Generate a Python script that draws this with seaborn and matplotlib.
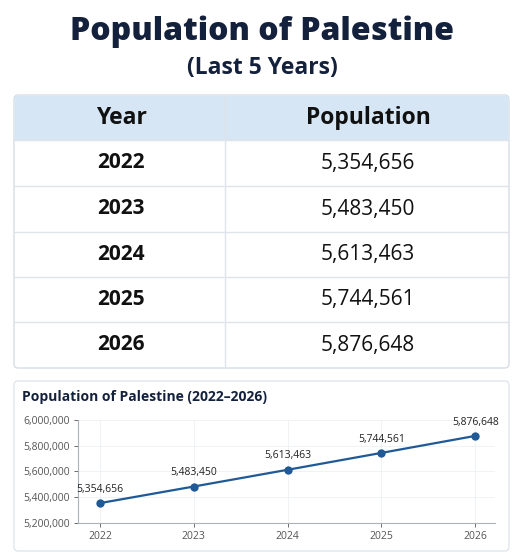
import matplotlib
matplotlib.use("Agg")
import matplotlib.pyplot as plt
import seaborn as sns
import pandas as pd
from matplotlib.patches import FancyBboxPatch, Rectangle
from matplotlib.lines import Line2D
from matplotlib.ticker import FuncFormatter

years = [2022, 2023, 2024, 2025, 2026]
population = [5354656, 5483450, 5613463, 5744561, 5876648]
y_ticks = [5200000, 5400000, 5600000, 5800000, 6000000]

sns.set_theme(style="white")
plt.rcParams['font.family'] = ['Open Sans', 'DejaVu Sans']

W, H = 524, 552
fig = plt.figure(figsize=(W/100, H/100), dpi=100)
fig.patch.set_facecolor("white")
NAVY = "#14213d"

def fx(x): return x / W
def fy(y): return 1 - y / H

fig.text(fx(262), fy(32), "Population of Palestine", ha="center", va="center",
         fontsize=23, fontweight="heavy", color=NAVY)
fig.text(fx(262), fy(68), "(Last 5 Years)", ha="center", va="center",
         fontsize=16.5, fontweight="bold", color=NAVY)

# table
tl, tr, tt, tb = 14, 509, 95, 368
card = FancyBboxPatch((fx(tl), fy(tb)), fx(tr-tl), (tb-tt)/H,
                      boxstyle="round,pad=0,rounding_size=0.008",
                      transform=fig.transFigure, facecolor="white",
                      edgecolor="#d5dde6", lw=1, zorder=-2)
fig.add_artist(card)
hb = 140
fig.add_artist(Rectangle((fx(tl+1), fy(hb)), fx(tr-tl-2), (hb-tt-1)/H,
                         transform=fig.transFigure, facecolor="#d6e6f5",
                         edgecolor="none", zorder=-1))
rows_edges = [140, 186, 232, 277, 322, 368]
for y in rows_edges[:-1]:
    fig.add_artist(Line2D([fx(tl), fx(tr)], [fy(y), fy(y)],
                          transform=fig.transFigure, color="#dfe4ea", lw=1))
fig.add_artist(Line2D([fx(225), fx(225)], [fy(tt), fy(tb)],
                      transform=fig.transFigure, color="#dfe4ea", lw=1))
fig.text(fx(121), fy(118), "Year", ha="center", va="center", fontsize=16.5,
         fontweight="bold", color="#111")
fig.text(fx(368), fy(118), "Population", ha="center", va="center", fontsize=16.5,
         fontweight="bold", color="#111")
for i, (yr, p) in enumerate(zip(years, population)):
    yc = (rows_edges[i] + rows_edges[i+1]) / 2
    fig.text(fx(121), fy(yc), str(yr), ha="center", va="center", fontsize=15,
             fontweight="bold", color="#111")
    fig.text(fx(368), fy(yc), f"{p:,}", ha="center", va="center", fontsize=15,
             fontweight="medium", color="#111")

# chart card
cl, cr, ct, cb = 14, 509, 381, 551
fig.add_artist(FancyBboxPatch((fx(cl), fy(cb)), fx(cr-cl), (cb-ct)/H,
                              boxstyle="round,pad=0,rounding_size=0.008",
                              transform=fig.transFigure, facecolor="white",
                              edgecolor="#e1e6ec", lw=1, zorder=-2))
fig.text(fx(22), fy(397), "Population of Palestine (2022–2026)", ha="left",
         va="center", fontsize=10, fontweight="bold", color=NAVY)

ax = fig.add_axes([fx(78), fy(523), fx(495-78), (523-420)/H])
ax.set_zorder(3)
ax.set_facecolor("none")
df = pd.DataFrame({"Year": years, "Population": population})
sns.lineplot(data=df, x="Year", y="Population", ax=ax, color="#1f5a96",
             lw=1.6, marker="o", markersize=6, markeredgewidth=0)
for yr, p in zip(years, population):
    ax.annotate(f"{p:,}", (yr, p), xytext=(0, 6), textcoords="offset points",
                ha="center", va="bottom", fontsize=7.5, color="#222")
ax.set_xlim(2021.765, 2026.21)
ax.set_ylim(5200000, 6000000)
ax.set_xticks(years)
ax.set_yticks(y_ticks)
ax.yaxis.set_major_formatter(FuncFormatter(lambda v, _: f"{int(v):,}"))
ax.tick_params(axis="both", labelsize=7.5, colors="#555", length=3, width=0.6,
               left=True, bottom=True, pad=3)
ax.set_xlabel(""); ax.set_ylabel("")
ax.grid(True, color="#eef1f4", lw=0.6)
for s in ["top", "right"]:
    ax.spines[s].set_visible(False)
for s in ["left", "bottom"]:
    ax.spines[s].set_color("#aab2bb"); ax.spines[s].set_linewidth(0.8)

fig.savefig("out.png", dpi=100, facecolor="white")
